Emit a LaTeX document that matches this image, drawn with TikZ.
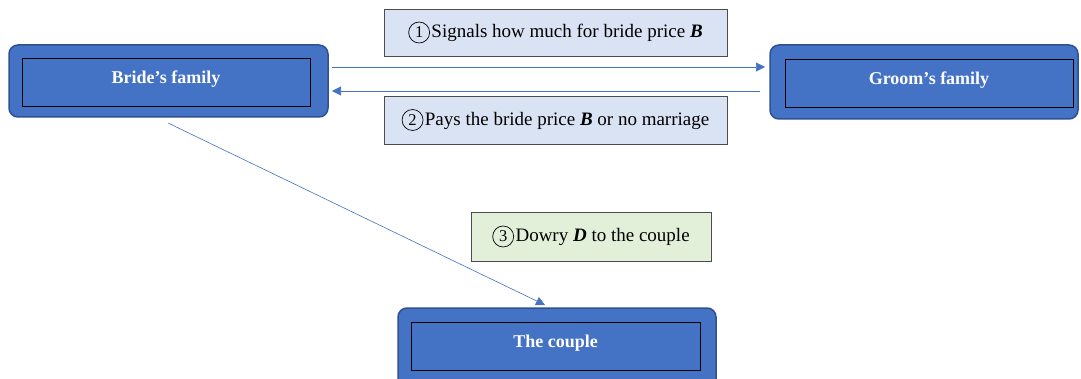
\documentclass[tikz,border=0pt]{standalone}
\usepackage{fontspec}
\setmainfont{Liberation Serif}
\usetikzlibrary{arrows.meta}
\definecolor{boxblue}{HTML}{4472C4}
\definecolor{boxedge}{HTML}{2F528F}
\definecolor{lblblue}{HTML}{DAE3F3}
\definecolor{lblgreen}{HTML}{E2F0D9}
\definecolor{linkblue}{HTML}{4472C4}
\tikzset{
  outerbox/.style={draw=boxedge, line width=1.5pt, fill=boxblue, rounded corners=9pt},
  innerbox/.style={draw=black, line width=0.8pt, fill=boxblue, text=white, font=\bfseries\fontsize{18}{20}\selectfont, inner sep=0pt, text height=13pt, text depth=10pt},
  lbl/.style={draw=black!70, line width=0.8pt, inner sep=0pt, font=\fontsize{19}{22}\selectfont},
  circnumstyle/.style={circle, draw=black, line width=0.7pt, inner sep=0pt, minimum size=21pt, font=\fontsize{16.5}{17}\selectfont},
  link/.style={draw=linkblue, line width=0.6pt, -{Triangle[length=9pt,width=9pt]}}
}
\newcommand{\circnum}[1]{\tikz[baseline=(cn.base)]\node[circnumstyle] (cn) {#1};\hspace{1.5pt}}
\begin{document}
\begin{tikzpicture}[x=1pt,y=-1pt]
\useasboundingbox (0,0) rectangle (1081,379);
\clip (0,0) rectangle (1081,379);
% Bride's family
\draw[outerbox] (9,45) rectangle (328,117);
\node[innerbox, minimum width=288pt, minimum height=48pt] (bride) at (166,82) {Bride’s family};
\coordinate (brideR) at (332,67);
\coordinate (brideR2) at (332,91);
\coordinate (brideS) at (168,123);
% Groom's family
\draw[outerbox] (770,45) rectangle (1078,119);
\node[innerbox, minimum width=288pt, minimum height=48pt] (groom) at (929,83) {Groom’s family};
\coordinate (groomL) at (765,67);
\coordinate (groomL2) at (760,91);
% Couple
\draw[outerbox] (398,308) rectangle (716,392);
\node[innerbox, minimum width=289pt, minimum height=48pt] (couple) at (555.5,346) {The couple};
\coordinate (coupleT) at (545,305);
% Labels
\node[lbl, fill=lblblue, minimum width=343pt, minimum height=47pt] (l1) at (555.5,32.5) {\circnum{1}Signals how much for bride price \textbf{\textit{B}}};
\node[lbl, fill=lblblue, minimum width=343pt, minimum height=48pt] (l2) at (555.5,120) {\circnum{2}Pays the bride price \textbf{\textit{B}} or no marriage};
\node[lbl, fill=lblgreen, minimum width=240pt, minimum height=49pt] (l3) at (591,236.5) {\circnum{3}Dowry \textbf{\textit{D}} to the couple};
% Links
\draw[link] (brideR) -- (groomL);
\draw[link] (groomL2) -- (brideR2);
\draw[link] (brideS) -- (coupleT);
\end{tikzpicture}
\end{document}
